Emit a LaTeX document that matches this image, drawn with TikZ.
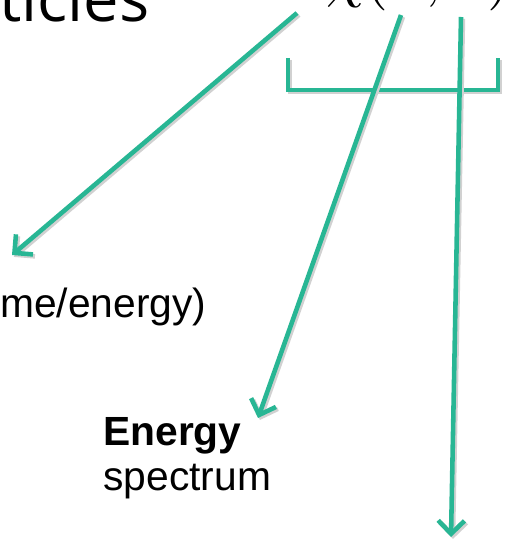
\documentclass[tikz,border=0pt]{standalone}
\usepackage{fontspec}
\setmainfont{Liberation Sans}
\newfontfamily\headfont{Open Sans}
\usetikzlibrary{arrows.meta}
\definecolor{arrowgreen}{RGB}{40,182,148}

\begin{document}
\begin{tikzpicture}[
  x=0.02cm, y=-0.02cm,
  txt/.style={anchor=base west,inner sep=0pt,font=\fontsize{23.2}{27}\selectfont},
  shade/.style={preaction={draw=black!18,line width=2.6pt,transform canvas={shift={(1.1pt,-1.1pt)}}}},
  pointer/.style={shade,draw=arrowgreen,line width=2.6pt,-{Straight Barb[length=7.5pt,width=15pt]}},
  bracket/.style={shade,draw=arrowgreen,line width=2.6pt}
]
  \clip (0,0) rectangle (504,540);
  \useasboundingbox (0,0) rectangle (504,540);
  \node[anchor=base west,inner sep=0pt,font=\headfont\fontsize{36}{42}\selectfont] (title) at (-1,22) {ticles};
  \node[anchor=base west,inner sep=0pt] (chi) at (326,-4) {\scalebox{3.5}{$\chi(E\mkern-4mu,\mkern4mu t)$}};
  \node[txt] (time) at (0,317) {me/energy)};
  \node[txt,font=\bfseries\fontsize{23.2}{27}\selectfont] (energy) at (103,445) {Energy};
  \node[txt] (spec) at (103,490) {spectrum};
  \coordinate (chiA) at (297,13);
  \coordinate (chiB) at (401,15);
  \coordinate (chiC) at (461,17);
  \coordinate (timeTip) at (12,255);
  \coordinate (energyTip) at (258,418);
  \coordinate (downTip) at (451,537);
  \draw[bracket] (288,58) |- (498,90) -- (498,58);
  \draw[pointer] (chiA) -- (timeTip);
  \draw[pointer] (chiB) -- (energyTip);
  \draw[pointer] (chiC) -- (downTip);
\end{tikzpicture}
\end{document}
